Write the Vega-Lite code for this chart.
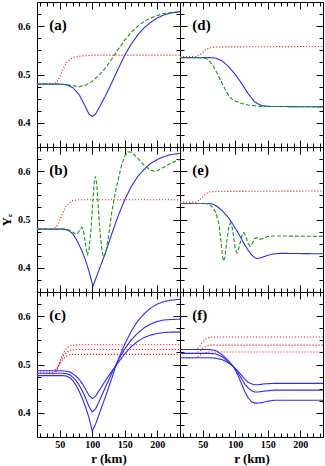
{
"$schema":"https://vega.github.io/schema/vega-lite/v6.json",
"padding":{"left":0,"top":1,"right":2,"bottom":0},
"background":"white",
"config":{"font":"Liberation Serif","view":{"stroke":"black","strokeWidth":1},
 "axis":{"domain":false,"grid":false,"labelFont":"Liberation Serif","labelFontWeight":"bold","labelFontSize":10,"labelColor":"black","labelFlush":false,"tickColor":"black","tickWidth":1,"titleFont":"Liberation Serif","titleFontWeight":"bold","titleFontSize":13,"titleColor":"black"}},
"data":{"values":[
{"p":"a","k":"r","s":"red","r":15,"y":0.480},{"p":"a","k":"r","s":"red","r":40,"y":0.480},{"p":"a","k":"r","s":"red","r":45,"y":0.484},{"p":"a","k":"r","s":"red","r":50,"y":0.495},{"p":"a","k":"r","s":"red","r":55,"y":0.511},{"p":"a","k":"r","s":"red","r":60,"y":0.524},{"p":"a","k":"r","s":"red","r":65,"y":0.531},{"p":"a","k":"r","s":"red","r":70,"y":0.535},{"p":"a","k":"r","s":"red","r":80,"y":0.538},{"p":"a","k":"r","s":"red","r":100,"y":0.540},{"p":"a","k":"r","s":"red","r":235,"y":0.540},
{"p":"a","k":"b","s":"blue","r":15,"y":0.480},{"p":"a","k":"b","s":"blue","r":50,"y":0.480},{"p":"a","k":"b","s":"blue","r":60,"y":0.479},{"p":"a","k":"b","s":"blue","r":70,"y":0.473},{"p":"a","k":"b","s":"blue","r":80,"y":0.458},{"p":"a","k":"b","s":"blue","r":90,"y":0.432},{"p":"a","k":"b","s":"blue","r":95,"y":0.418},{"p":"a","k":"b","s":"blue","r":100,"y":0.413},{"p":"a","k":"b","s":"blue","r":105,"y":0.418},{"p":"a","k":"b","s":"blue","r":110,"y":0.430},{"p":"a","k":"b","s":"blue","r":120,"y":0.455},{"p":"a","k":"b","s":"blue","r":130,"y":0.483},{"p":"a","k":"b","s":"blue","r":140,"y":0.512},{"p":"a","k":"b","s":"blue","r":150,"y":0.540},{"p":"a","k":"b","s":"blue","r":160,"y":0.563},{"p":"a","k":"b","s":"blue","r":170,"y":0.582},{"p":"a","k":"b","s":"blue","r":180,"y":0.597},{"p":"a","k":"b","s":"blue","r":190,"y":0.608},{"p":"a","k":"b","s":"blue","r":200,"y":0.617},{"p":"a","k":"b","s":"blue","r":210,"y":0.623},{"p":"a","k":"b","s":"blue","r":220,"y":0.627},{"p":"a","k":"b","s":"blue","r":235,"y":0.630},
{"p":"a","k":"g","s":"green","r":15,"y":0.480},{"p":"a","k":"g","s":"green","r":50,"y":0.480},{"p":"a","k":"g","s":"green","r":60,"y":0.479},{"p":"a","k":"g","s":"green","r":70,"y":0.477},{"p":"a","k":"g","s":"green","r":80,"y":0.475},{"p":"a","k":"g","s":"green","r":90,"y":0.478},{"p":"a","k":"g","s":"green","r":100,"y":0.486},{"p":"a","k":"g","s":"green","r":110,"y":0.498},{"p":"a","k":"g","s":"green","r":120,"y":0.513},{"p":"a","k":"g","s":"green","r":130,"y":0.532},{"p":"a","k":"g","s":"green","r":140,"y":0.552},{"p":"a","k":"g","s":"green","r":150,"y":0.571},{"p":"a","k":"g","s":"green","r":160,"y":0.587},{"p":"a","k":"g","s":"green","r":170,"y":0.600},{"p":"a","k":"g","s":"green","r":180,"y":0.610},{"p":"a","k":"g","s":"green","r":190,"y":0.617},{"p":"a","k":"g","s":"green","r":200,"y":0.622},{"p":"a","k":"g","s":"green","r":210,"y":0.626},{"p":"a","k":"g","s":"green","r":220,"y":0.628},{"p":"a","k":"g","s":"green","r":235,"y":0.630},

{"p":"d","k":"r","s":"red","r":15,"y":0.537},{"p":"d","k":"r","s":"red","r":40,"y":0.537},{"p":"d","k":"r","s":"red","r":45,"y":0.540},{"p":"d","k":"r","s":"red","r":50,"y":0.546},{"p":"d","k":"r","s":"red","r":55,"y":0.552},{"p":"d","k":"r","s":"red","r":60,"y":0.555},{"p":"d","k":"r","s":"red","r":70,"y":0.557},{"p":"d","k":"r","s":"red","r":235,"y":0.558},
{"p":"d","k":"b","s":"blue","r":15,"y":0.535},{"p":"d","k":"b","s":"blue","r":60,"y":0.535},{"p":"d","k":"b","s":"blue","r":70,"y":0.534},{"p":"d","k":"b","s":"blue","r":80,"y":0.528},{"p":"d","k":"b","s":"blue","r":90,"y":0.516},{"p":"d","k":"b","s":"blue","r":100,"y":0.500},{"p":"d","k":"b","s":"blue","r":110,"y":0.481},{"p":"d","k":"b","s":"blue","r":120,"y":0.460},{"p":"d","k":"b","s":"blue","r":130,"y":0.443},{"p":"d","k":"b","s":"blue","r":140,"y":0.436},{"p":"d","k":"b","s":"blue","r":150,"y":0.434},{"p":"d","k":"b","s":"blue","r":235,"y":0.433},
{"p":"d","k":"g","s":"green","r":15,"y":0.535},{"p":"d","k":"g","s":"green","r":50,"y":0.535},{"p":"d","k":"g","s":"green","r":55,"y":0.533},{"p":"d","k":"g","s":"green","r":60,"y":0.528},{"p":"d","k":"g","s":"green","r":65,"y":0.520},{"p":"d","k":"g","s":"green","r":70,"y":0.508},{"p":"d","k":"g","s":"green","r":75,"y":0.495},{"p":"d","k":"g","s":"green","r":80,"y":0.481},{"p":"d","k":"g","s":"green","r":85,"y":0.468},{"p":"d","k":"g","s":"green","r":90,"y":0.456},{"p":"d","k":"g","s":"green","r":95,"y":0.449},{"p":"d","k":"g","s":"green","r":100,"y":0.445},{"p":"d","k":"g","s":"green","r":110,"y":0.440},{"p":"d","k":"g","s":"green","r":120,"y":0.437},{"p":"d","k":"g","s":"green","r":130,"y":0.435},{"p":"d","k":"g","s":"green","r":140,"y":0.434},{"p":"d","k":"g","s":"green","r":235,"y":0.433},

{"p":"b","k":"r","s":"red","r":15,"y":0.480},{"p":"b","k":"r","s":"red","r":40,"y":0.480},{"p":"b","k":"r","s":"red","r":45,"y":0.485},{"p":"b","k":"r","s":"red","r":50,"y":0.498},{"p":"b","k":"r","s":"red","r":55,"y":0.515},{"p":"b","k":"r","s":"red","r":60,"y":0.528},{"p":"b","k":"r","s":"red","r":65,"y":0.535},{"p":"b","k":"r","s":"red","r":70,"y":0.539},{"p":"b","k":"r","s":"red","r":80,"y":0.541},{"p":"b","k":"r","s":"red","r":235,"y":0.541},
{"p":"b","k":"b","s":"blue","r":15,"y":0.480},{"p":"b","k":"b","s":"blue","r":55,"y":0.480},{"p":"b","k":"b","s":"blue","r":60,"y":0.479},{"p":"b","k":"b","s":"blue","r":65,"y":0.476},{"p":"b","k":"b","s":"blue","r":70,"y":0.470},{"p":"b","k":"b","s":"blue","r":75,"y":0.460},{"p":"b","k":"b","s":"blue","r":80,"y":0.447},{"p":"b","k":"b","s":"blue","r":85,"y":0.432},{"p":"b","k":"b","s":"blue","r":90,"y":0.414},{"p":"b","k":"b","s":"blue","r":95,"y":0.393},{"p":"b","k":"b","s":"blue","r":101,"y":0.362},{"p":"b","k":"b","s":"blue","r":105,"y":0.376},{"p":"b","k":"b","s":"blue","r":110,"y":0.394},{"p":"b","k":"b","s":"blue","r":120,"y":0.430},{"p":"b","k":"b","s":"blue","r":130,"y":0.470},{"p":"b","k":"b","s":"blue","r":140,"y":0.508},{"p":"b","k":"b","s":"blue","r":150,"y":0.541},{"p":"b","k":"b","s":"blue","r":160,"y":0.568},{"p":"b","k":"b","s":"blue","r":170,"y":0.589},{"p":"b","k":"b","s":"blue","r":180,"y":0.604},{"p":"b","k":"b","s":"blue","r":190,"y":0.616},{"p":"b","k":"b","s":"blue","r":200,"y":0.624},{"p":"b","k":"b","s":"blue","r":210,"y":0.630},{"p":"b","k":"b","s":"blue","r":220,"y":0.634},{"p":"b","k":"b","s":"blue","r":235,"y":0.637},
{"p":"b","k":"g","s":"green","r":15,"y":0.480},{"p":"b","k":"g","s":"green","r":60,"y":0.480},{"p":"b","k":"g","s":"green","r":65,"y":0.478},{"p":"b","k":"g","s":"green","r":70,"y":0.474},{"p":"b","k":"g","s":"green","r":75,"y":0.469},{"p":"b","k":"g","s":"green","r":78,"y":0.472},{"p":"b","k":"g","s":"green","r":81,"y":0.479},{"p":"b","k":"g","s":"green","r":84,"y":0.484},{"p":"b","k":"g","s":"green","r":86,"y":0.480},{"p":"b","k":"g","s":"green","r":88,"y":0.465},{"p":"b","k":"g","s":"green","r":90,"y":0.445},{"p":"b","k":"g","s":"green","r":92.5,"y":0.426},{"p":"b","k":"g","s":"green","r":95,"y":0.438},{"p":"b","k":"g","s":"green","r":98,"y":0.478},{"p":"b","k":"g","s":"green","r":101,"y":0.540},{"p":"b","k":"g","s":"green","r":103,"y":0.578},{"p":"b","k":"g","s":"green","r":105,"y":0.589},{"p":"b","k":"g","s":"green","r":107,"y":0.572},{"p":"b","k":"g","s":"green","r":109,"y":0.532},{"p":"b","k":"g","s":"green","r":111,"y":0.488},{"p":"b","k":"g","s":"green","r":114,"y":0.446},{"p":"b","k":"g","s":"green","r":116,"y":0.428},{"p":"b","k":"g","s":"green","r":118,"y":0.422},{"p":"b","k":"g","s":"green","r":121,"y":0.432},{"p":"b","k":"g","s":"green","r":125,"y":0.465},{"p":"b","k":"g","s":"green","r":130,"y":0.515},{"p":"b","k":"g","s":"green","r":135,"y":0.553},{"p":"b","k":"g","s":"green","r":140,"y":0.583},{"p":"b","k":"g","s":"green","r":145,"y":0.612},{"p":"b","k":"g","s":"green","r":150,"y":0.631},{"p":"b","k":"g","s":"green","r":155,"y":0.640},{"p":"b","k":"g","s":"green","r":160,"y":0.639},{"p":"b","k":"g","s":"green","r":170,"y":0.627},{"p":"b","k":"g","s":"green","r":180,"y":0.612},{"p":"b","k":"g","s":"green","r":190,"y":0.602},{"p":"b","k":"g","s":"green","r":195,"y":0.600},{"p":"b","k":"g","s":"green","r":200,"y":0.601},{"p":"b","k":"g","s":"green","r":210,"y":0.608},{"p":"b","k":"g","s":"green","r":220,"y":0.616},{"p":"b","k":"g","s":"green","r":235,"y":0.624},

{"p":"e","k":"r","s":"red","r":15,"y":0.536},{"p":"e","k":"r","s":"red","r":40,"y":0.536},{"p":"e","k":"r","s":"red","r":45,"y":0.540},{"p":"e","k":"r","s":"red","r":50,"y":0.547},{"p":"e","k":"r","s":"red","r":55,"y":0.554},{"p":"e","k":"r","s":"red","r":60,"y":0.557},{"p":"e","k":"r","s":"red","r":70,"y":0.558},{"p":"e","k":"r","s":"red","r":235,"y":0.559},
{"p":"e","k":"b","s":"blue","r":15,"y":0.533},{"p":"e","k":"b","s":"blue","r":60,"y":0.533},{"p":"e","k":"b","s":"blue","r":65,"y":0.532},{"p":"e","k":"b","s":"blue","r":70,"y":0.529},{"p":"e","k":"b","s":"blue","r":75,"y":0.524},{"p":"e","k":"b","s":"blue","r":80,"y":0.518},{"p":"e","k":"b","s":"blue","r":85,"y":0.511},{"p":"e","k":"b","s":"blue","r":90,"y":0.503},{"p":"e","k":"b","s":"blue","r":95,"y":0.493},{"p":"e","k":"b","s":"blue","r":100,"y":0.482},{"p":"e","k":"b","s":"blue","r":105,"y":0.471},{"p":"e","k":"b","s":"blue","r":110,"y":0.459},{"p":"e","k":"b","s":"blue","r":115,"y":0.447},{"p":"e","k":"b","s":"blue","r":120,"y":0.436},{"p":"e","k":"b","s":"blue","r":125,"y":0.427},{"p":"e","k":"b","s":"blue","r":130,"y":0.421},{"p":"e","k":"b","s":"blue","r":134,"y":0.419},{"p":"e","k":"b","s":"blue","r":140,"y":0.421},{"p":"e","k":"b","s":"blue","r":150,"y":0.426},{"p":"e","k":"b","s":"blue","r":160,"y":0.429},{"p":"e","k":"b","s":"blue","r":170,"y":0.430},{"p":"e","k":"b","s":"blue","r":235,"y":0.429},
{"p":"e","k":"g","s":"green","r":15,"y":0.533},{"p":"e","k":"g","s":"green","r":55,"y":0.533},{"p":"e","k":"g","s":"green","r":60,"y":0.531},{"p":"e","k":"g","s":"green","r":65,"y":0.526},{"p":"e","k":"g","s":"green","r":70,"y":0.515},{"p":"e","k":"g","s":"green","r":75,"y":0.490},{"p":"e","k":"g","s":"green","r":78,"y":0.455},{"p":"e","k":"g","s":"green","r":80,"y":0.428},{"p":"e","k":"g","s":"green","r":82,"y":0.414},{"p":"e","k":"g","s":"green","r":84,"y":0.420},{"p":"e","k":"g","s":"green","r":87,"y":0.455},{"p":"e","k":"g","s":"green","r":90,"y":0.485},{"p":"e","k":"g","s":"green","r":92.5,"y":0.493},{"p":"e","k":"g","s":"green","r":95,"y":0.485},{"p":"e","k":"g","s":"green","r":98,"y":0.460},{"p":"e","k":"g","s":"green","r":100,"y":0.440},{"p":"e","k":"g","s":"green","r":102.5,"y":0.431},{"p":"e","k":"g","s":"green","r":105,"y":0.438},{"p":"e","k":"g","s":"green","r":108,"y":0.455},{"p":"e","k":"g","s":"green","r":111,"y":0.470},{"p":"e","k":"g","s":"green","r":113,"y":0.473},{"p":"e","k":"g","s":"green","r":116,"y":0.466},{"p":"e","k":"g","s":"green","r":120,"y":0.450},{"p":"e","k":"g","s":"green","r":123,"y":0.445},{"p":"e","k":"g","s":"green","r":126,"y":0.450},{"p":"e","k":"g","s":"green","r":130,"y":0.461},{"p":"e","k":"g","s":"green","r":134,"y":0.462},{"p":"e","k":"g","s":"green","r":138,"y":0.459},{"p":"e","k":"g","s":"green","r":143,"y":0.461},{"p":"e","k":"g","s":"green","r":150,"y":0.465},{"p":"e","k":"g","s":"green","r":160,"y":0.466},{"p":"e","k":"g","s":"green","r":235,"y":0.465},

{"p":"c","k":"r1","s":"red","r":15,"y":0.477},{"p":"c","k":"r1","s":"red","r":40,"y":0.478},{"p":"c","k":"r1","s":"red","r":45,"y":0.485},{"p":"c","k":"r1","s":"red","r":50,"y":0.505},{"p":"c","k":"r1","s":"red","r":55,"y":0.522},{"p":"c","k":"r1","s":"red","r":60,"y":0.533},{"p":"c","k":"r1","s":"red","r":65,"y":0.538},{"p":"c","k":"r1","s":"red","r":70,"y":0.540},{"p":"c","k":"r1","s":"red","r":80,"y":0.541},{"p":"c","k":"r1","s":"red","r":235,"y":0.541},
{"p":"c","k":"r2","s":"red","r":15,"y":0.482},{"p":"c","k":"r2","s":"red","r":40,"y":0.483},{"p":"c","k":"r2","s":"red","r":45,"y":0.488},{"p":"c","k":"r2","s":"red","r":50,"y":0.503},{"p":"c","k":"r2","s":"red","r":55,"y":0.517},{"p":"c","k":"r2","s":"red","r":60,"y":0.525},{"p":"c","k":"r2","s":"red","r":65,"y":0.529},{"p":"c","k":"r2","s":"red","r":70,"y":0.530},{"p":"c","k":"r2","s":"red","r":80,"y":0.531},{"p":"c","k":"r2","s":"red","r":235,"y":0.531},
{"p":"c","k":"r3","s":"red","r":15,"y":0.487},{"p":"c","k":"r3","s":"red","r":40,"y":0.487},{"p":"c","k":"r3","s":"red","r":45,"y":0.491},{"p":"c","k":"r3","s":"red","r":50,"y":0.502},{"p":"c","k":"r3","s":"red","r":55,"y":0.511},{"p":"c","k":"r3","s":"red","r":60,"y":0.517},{"p":"c","k":"r3","s":"red","r":65,"y":0.520},{"p":"c","k":"r3","s":"red","r":70,"y":0.521},{"p":"c","k":"r3","s":"red","r":235,"y":0.521},
{"p":"c","k":"b1","s":"blue","r":15,"y":0.477},{"p":"c","k":"b1","s":"blue","r":55,"y":0.477},{"p":"c","k":"b1","s":"blue","r":60,"y":0.476},{"p":"c","k":"b1","s":"blue","r":65,"y":0.473},{"p":"c","k":"b1","s":"blue","r":70,"y":0.467},{"p":"c","k":"b1","s":"blue","r":75,"y":0.457},{"p":"c","k":"b1","s":"blue","r":80,"y":0.444},{"p":"c","k":"b1","s":"blue","r":85,"y":0.429},{"p":"c","k":"b1","s":"blue","r":90,"y":0.411},{"p":"c","k":"b1","s":"blue","r":95,"y":0.390},{"p":"c","k":"b1","s":"blue","r":100,"y":0.362},{"p":"c","k":"b1","s":"blue","r":105,"y":0.376},{"p":"c","k":"b1","s":"blue","r":110,"y":0.395},{"p":"c","k":"b1","s":"blue","r":120,"y":0.432},{"p":"c","k":"b1","s":"blue","r":130,"y":0.471},{"p":"c","k":"b1","s":"blue","r":135,"y":0.492},{"p":"c","k":"b1","s":"blue","r":140,"y":0.510},{"p":"c","k":"b1","s":"blue","r":150,"y":0.542},{"p":"c","k":"b1","s":"blue","r":160,"y":0.569},{"p":"c","k":"b1","s":"blue","r":170,"y":0.590},{"p":"c","k":"b1","s":"blue","r":180,"y":0.605},{"p":"c","k":"b1","s":"blue","r":190,"y":0.617},{"p":"c","k":"b1","s":"blue","r":200,"y":0.625},{"p":"c","k":"b1","s":"blue","r":210,"y":0.630},{"p":"c","k":"b1","s":"blue","r":220,"y":0.633},{"p":"c","k":"b1","s":"blue","r":235,"y":0.635},
{"p":"c","k":"b2","s":"blue","r":15,"y":0.482},{"p":"c","k":"b2","s":"blue","r":55,"y":0.482},{"p":"c","k":"b2","s":"blue","r":60,"y":0.481},{"p":"c","k":"b2","s":"blue","r":65,"y":0.479},{"p":"c","k":"b2","s":"blue","r":70,"y":0.474},{"p":"c","k":"b2","s":"blue","r":75,"y":0.467},{"p":"c","k":"b2","s":"blue","r":80,"y":0.457},{"p":"c","k":"b2","s":"blue","r":85,"y":0.445},{"p":"c","k":"b2","s":"blue","r":90,"y":0.430},{"p":"c","k":"b2","s":"blue","r":95,"y":0.413},{"p":"c","k":"b2","s":"blue","r":100,"y":0.402},{"p":"c","k":"b2","s":"blue","r":105,"y":0.408},{"p":"c","k":"b2","s":"blue","r":110,"y":0.422},{"p":"c","k":"b2","s":"blue","r":120,"y":0.452},{"p":"c","k":"b2","s":"blue","r":130,"y":0.482},{"p":"c","k":"b2","s":"blue","r":135,"y":0.495},{"p":"c","k":"b2","s":"blue","r":140,"y":0.509},{"p":"c","k":"b2","s":"blue","r":150,"y":0.532},{"p":"c","k":"b2","s":"blue","r":160,"y":0.551},{"p":"c","k":"b2","s":"blue","r":170,"y":0.565},{"p":"c","k":"b2","s":"blue","r":180,"y":0.576},{"p":"c","k":"b2","s":"blue","r":190,"y":0.584},{"p":"c","k":"b2","s":"blue","r":200,"y":0.589},{"p":"c","k":"b2","s":"blue","r":210,"y":0.592},{"p":"c","k":"b2","s":"blue","r":220,"y":0.593},{"p":"c","k":"b2","s":"blue","r":235,"y":0.594},
{"p":"c","k":"b3","s":"blue","r":15,"y":0.487},{"p":"c","k":"b3","s":"blue","r":55,"y":0.487},{"p":"c","k":"b3","s":"blue","r":60,"y":0.486},{"p":"c","k":"b3","s":"blue","r":65,"y":0.485},{"p":"c","k":"b3","s":"blue","r":70,"y":0.481},{"p":"c","k":"b3","s":"blue","r":75,"y":0.476},{"p":"c","k":"b3","s":"blue","r":80,"y":0.469},{"p":"c","k":"b3","s":"blue","r":85,"y":0.460},{"p":"c","k":"b3","s":"blue","r":90,"y":0.448},{"p":"c","k":"b3","s":"blue","r":95,"y":0.436},{"p":"c","k":"b3","s":"blue","r":100,"y":0.430},{"p":"c","k":"b3","s":"blue","r":105,"y":0.434},{"p":"c","k":"b3","s":"blue","r":110,"y":0.445},{"p":"c","k":"b3","s":"blue","r":120,"y":0.466},{"p":"c","k":"b3","s":"blue","r":130,"y":0.486},{"p":"c","k":"b3","s":"blue","r":135,"y":0.495},{"p":"c","k":"b3","s":"blue","r":140,"y":0.504},{"p":"c","k":"b3","s":"blue","r":150,"y":0.522},{"p":"c","k":"b3","s":"blue","r":160,"y":0.537},{"p":"c","k":"b3","s":"blue","r":170,"y":0.548},{"p":"c","k":"b3","s":"blue","r":180,"y":0.556},{"p":"c","k":"b3","s":"blue","r":190,"y":0.561},{"p":"c","k":"b3","s":"blue","r":200,"y":0.564},{"p":"c","k":"b3","s":"blue","r":210,"y":0.566},{"p":"c","k":"b3","s":"blue","r":220,"y":0.567},{"p":"c","k":"b3","s":"blue","r":235,"y":0.567},

{"p":"f","k":"r1","s":"red","r":15,"y":0.531},{"p":"f","k":"r1","s":"red","r":40,"y":0.531},{"p":"f","k":"r1","s":"red","r":45,"y":0.537},{"p":"f","k":"r1","s":"red","r":50,"y":0.547},{"p":"f","k":"r1","s":"red","r":55,"y":0.553},{"p":"f","k":"r1","s":"red","r":60,"y":0.556},{"p":"f","k":"r1","s":"red","r":70,"y":0.557},{"p":"f","k":"r1","s":"red","r":235,"y":0.557},
{"p":"f","k":"r2","s":"red","r":15,"y":0.523},{"p":"f","k":"r2","s":"red","r":40,"y":0.523},{"p":"f","k":"r2","s":"red","r":45,"y":0.528},{"p":"f","k":"r2","s":"red","r":50,"y":0.534},{"p":"f","k":"r2","s":"red","r":55,"y":0.538},{"p":"f","k":"r2","s":"red","r":60,"y":0.540},{"p":"f","k":"r2","s":"red","r":235,"y":0.540},
{"p":"f","k":"r3","s":"red","r":15,"y":0.514},{"p":"f","k":"r3","s":"red","r":40,"y":0.514},{"p":"f","k":"r3","s":"red","r":45,"y":0.518},{"p":"f","k":"r3","s":"red","r":50,"y":0.523},{"p":"f","k":"r3","s":"red","r":55,"y":0.525},{"p":"f","k":"r3","s":"red","r":60,"y":0.526},{"p":"f","k":"r3","s":"red","r":235,"y":0.526},
{"p":"f","k":"b1","s":"blue","r":15,"y":0.531},{"p":"f","k":"b1","s":"blue","r":60,"y":0.531},{"p":"f","k":"b1","s":"blue","r":70,"y":0.529},{"p":"f","k":"b1","s":"blue","r":80,"y":0.520},{"p":"f","k":"b1","s":"blue","r":90,"y":0.507},{"p":"f","k":"b1","s":"blue","r":95,"y":0.499},{"p":"f","k":"b1","s":"blue","r":100,"y":0.489},{"p":"f","k":"b1","s":"blue","r":105,"y":0.475},{"p":"f","k":"b1","s":"blue","r":110,"y":0.459},{"p":"f","k":"b1","s":"blue","r":115,"y":0.443},{"p":"f","k":"b1","s":"blue","r":120,"y":0.431},{"p":"f","k":"b1","s":"blue","r":125,"y":0.423},{"p":"f","k":"b1","s":"blue","r":130,"y":0.420},{"p":"f","k":"b1","s":"blue","r":135,"y":0.420},{"p":"f","k":"b1","s":"blue","r":140,"y":0.421},{"p":"f","k":"b1","s":"blue","r":150,"y":0.424},{"p":"f","k":"b1","s":"blue","r":160,"y":0.426},{"p":"f","k":"b1","s":"blue","r":235,"y":0.426},
{"p":"f","k":"b2","s":"blue","r":15,"y":0.523},{"p":"f","k":"b2","s":"blue","r":60,"y":0.523},{"p":"f","k":"b2","s":"blue","r":70,"y":0.522},{"p":"f","k":"b2","s":"blue","r":80,"y":0.516},{"p":"f","k":"b2","s":"blue","r":90,"y":0.505},{"p":"f","k":"b2","s":"blue","r":95,"y":0.499},{"p":"f","k":"b2","s":"blue","r":100,"y":0.491},{"p":"f","k":"b2","s":"blue","r":105,"y":0.481},{"p":"f","k":"b2","s":"blue","r":110,"y":0.470},{"p":"f","k":"b2","s":"blue","r":115,"y":0.459},{"p":"f","k":"b2","s":"blue","r":120,"y":0.451},{"p":"f","k":"b2","s":"blue","r":125,"y":0.446},{"p":"f","k":"b2","s":"blue","r":130,"y":0.443},{"p":"f","k":"b2","s":"blue","r":135,"y":0.443},{"p":"f","k":"b2","s":"blue","r":145,"y":0.445},{"p":"f","k":"b2","s":"blue","r":160,"y":0.447},{"p":"f","k":"b2","s":"blue","r":235,"y":0.447},
{"p":"f","k":"b3","s":"blue","r":15,"y":0.514},{"p":"f","k":"b3","s":"blue","r":60,"y":0.514},{"p":"f","k":"b3","s":"blue","r":70,"y":0.513},{"p":"f","k":"b3","s":"blue","r":80,"y":0.510},{"p":"f","k":"b3","s":"blue","r":90,"y":0.503},{"p":"f","k":"b3","s":"blue","r":95,"y":0.498},{"p":"f","k":"b3","s":"blue","r":100,"y":0.492},{"p":"f","k":"b3","s":"blue","r":105,"y":0.485},{"p":"f","k":"b3","s":"blue","r":110,"y":0.477},{"p":"f","k":"b3","s":"blue","r":115,"y":0.469},{"p":"f","k":"b3","s":"blue","r":120,"y":0.463},{"p":"f","k":"b3","s":"blue","r":125,"y":0.460},{"p":"f","k":"b3","s":"blue","r":130,"y":0.458},{"p":"f","k":"b3","s":"blue","r":135,"y":0.458},{"p":"f","k":"b3","s":"blue","r":145,"y":0.460},{"p":"f","k":"b3","s":"blue","r":160,"y":0.461},{"p":"f","k":"b3","s":"blue","r":235,"y":0.461}
]},
"columns":2,"spacing":0,"bounds":"flush",
"concat":[
{"width":143,"height":145,"layer":[
 {"transform":[{"filter":"datum.p==='a'"}],"mark":{"type":"line","strokeWidth":1.1},"encoding":{
  "x":{"field":"r","type":"quantitative","scale":{"domain":[15,235],"nice":false,"zero":false},"axis":{"orient":"bottom","values":[20,30,40,50,60,70,80,90,100,110,120,130,140,150,160,170,180,190,200,210,220,230],"tickSize":{"condition":{"test":"datum.value % 50 === 0","value":-7},"value":-4},"labels":false,"title":null}},
  "y":{"field":"y","type":"quantitative","scale":{"domain":[0.35,0.65],"nice":false,"zero":false},"axis":{"orient":"left","values":[0.375,0.4,0.425,0.45,0.475,0.5,0.525,0.55,0.575,0.6,0.625],"tickSize":{"condition":{"test":"abs(datum.value*10-round(datum.value*10))<0.001","value":-7},"value":-4},"labelExpr":"abs(datum.value*10-round(datum.value*10))<0.001 ? format(datum.value,'.1f') : ''","labelPadding":14,"labelOverlap":false,"title":null}},
  "color":{"field":"s","type":"nominal","scale":{"domain":["red","blue","green"],"range":["#ff2020","#2a2aff","#1a961a"]},"legend":null},
  "strokeDash":{"field":"s","type":"nominal","scale":{"domain":["red","blue","green"],"range":[[1.2,1.8],[1,0],[4,2]]},"legend":null},
  "detail":{"field":"k"}}},
 {"transform":[{"filter":"datum.p==='a'"}],"mark":{"type":"point","opacity":0},"encoding":{
  "x":{"field":"r","type":"quantitative","scale":{"domain":[15,235],"nice":false,"zero":false},"axis":{"orient":"top","values":[20,30,40,50,60,70,80,90,100,110,120,130,140,150,160,170,180,190,200,210,220,230],"tickSize":{"condition":{"test":"datum.value % 50 === 0","value":-7},"value":-4},"labels":false,"title":null}},
  "y":{"field":"y","type":"quantitative","scale":{"domain":[0.35,0.65],"nice":false,"zero":false},"axis":{"orient":"right","values":[0.375,0.4,0.425,0.45,0.475,0.5,0.525,0.55,0.575,0.6,0.625],"tickSize":{"condition":{"test":"abs(datum.value*10-round(datum.value*10))<0.001","value":-7},"value":-4},"labels":false,"title":null}}}},
 {"data":{"values":[{"t":"(a)"}]},"mark":{"type":"text","align":"left","baseline":"middle","fontSize":15,"fontWeight":"bold","font":"Liberation Serif","color":"black"},"encoding":{
  "x":{"datum":34,"type":"quantitative","scale":{"domain":[15,235],"nice":false,"zero":false},"axis":null},
  "y":{"datum":0.603,"type":"quantitative","scale":{"domain":[0.35,0.65],"nice":false,"zero":false},"axis":null},
  "text":{"field":"t"}}}
],"resolve":{"axis":{"x":"independent","y":"independent"}}},

{"width":143,"height":145,"layer":[
 {"transform":[{"filter":"datum.p==='d'"}],"mark":{"type":"line","strokeWidth":1.1},"encoding":{
  "x":{"field":"r","type":"quantitative","scale":{"domain":[15,235],"nice":false,"zero":false},"axis":{"orient":"bottom","values":[20,30,40,50,60,70,80,90,100,110,120,130,140,150,160,170,180,190,200,210,220,230],"tickSize":{"condition":{"test":"datum.value % 50 === 0","value":-7},"value":-4},"labels":false,"title":null}},
  "y":{"field":"y","type":"quantitative","scale":{"domain":[0.35,0.65],"nice":false,"zero":false},"axis":{"orient":"left","values":[0.375,0.4,0.425,0.45,0.475,0.5,0.525,0.55,0.575,0.6,0.625],"tickSize":{"condition":{"test":"abs(datum.value*10-round(datum.value*10))<0.001","value":-7},"value":-4},"labels":false,"title":null}},
  "color":{"field":"s","type":"nominal","scale":{"domain":["red","blue","green"],"range":["#ff2020","#2a2aff","#1a961a"]},"legend":null},
  "strokeDash":{"field":"s","type":"nominal","scale":{"domain":["red","blue","green"],"range":[[1.2,1.8],[1,0],[4,2]]},"legend":null},
  "detail":{"field":"k"}}},
 {"transform":[{"filter":"datum.p==='d'"}],"mark":{"type":"point","opacity":0},"encoding":{
  "x":{"field":"r","type":"quantitative","scale":{"domain":[15,235],"nice":false,"zero":false},"axis":{"orient":"top","values":[20,30,40,50,60,70,80,90,100,110,120,130,140,150,160,170,180,190,200,210,220,230],"tickSize":{"condition":{"test":"datum.value % 50 === 0","value":-7},"value":-4},"labels":false,"title":null}},
  "y":{"field":"y","type":"quantitative","scale":{"domain":[0.35,0.65],"nice":false,"zero":false},"axis":{"orient":"right","values":[0.375,0.4,0.425,0.45,0.475,0.5,0.525,0.55,0.575,0.6,0.625],"tickSize":{"condition":{"test":"abs(datum.value*10-round(datum.value*10))<0.001","value":-7},"value":-4},"labels":false,"title":null}}}},
 {"data":{"values":[{"t":"(d)"}]},"mark":{"type":"text","align":"left","baseline":"middle","fontSize":15,"fontWeight":"bold","font":"Liberation Serif","color":"black"},"encoding":{
  "x":{"datum":34,"type":"quantitative","scale":{"domain":[15,235],"nice":false,"zero":false},"axis":null},
  "y":{"datum":0.603,"type":"quantitative","scale":{"domain":[0.35,0.65],"nice":false,"zero":false},"axis":null},
  "text":{"field":"t"}}}
],"resolve":{"axis":{"x":"independent","y":"independent"}}},

{"width":143,"height":145,"layer":[
 {"transform":[{"filter":"datum.p==='b'"}],"mark":{"type":"line","strokeWidth":1.1},"encoding":{
  "x":{"field":"r","type":"quantitative","scale":{"domain":[15,235],"nice":false,"zero":false},"axis":{"orient":"bottom","values":[20,30,40,50,60,70,80,90,100,110,120,130,140,150,160,170,180,190,200,210,220,230],"tickSize":{"condition":{"test":"datum.value % 50 === 0","value":-7},"value":-4},"labels":false,"title":null}},
  "y":{"field":"y","type":"quantitative","scale":{"domain":[0.35,0.65],"nice":false,"zero":false},"axis":{"orient":"left","values":[0.375,0.4,0.425,0.45,0.475,0.5,0.525,0.55,0.575,0.6,0.625],"tickSize":{"condition":{"test":"abs(datum.value*10-round(datum.value*10))<0.001","value":-7},"value":-4},"labelExpr":"abs(datum.value*10-round(datum.value*10))<0.001 ? format(datum.value,'.1f') : ''","labelPadding":14,"labelOverlap":false,"title":"Yₑ","titlePadding":4}},
  "color":{"field":"s","type":"nominal","scale":{"domain":["red","blue","green"],"range":["#ff2020","#2a2aff","#1a961a"]},"legend":null},
  "strokeDash":{"field":"s","type":"nominal","scale":{"domain":["red","blue","green"],"range":[[1.2,1.8],[1,0],[4,2]]},"legend":null},
  "detail":{"field":"k"}}},
 {"transform":[{"filter":"datum.p==='b'"}],"mark":{"type":"point","opacity":0},"encoding":{
  "x":{"field":"r","type":"quantitative","scale":{"domain":[15,235],"nice":false,"zero":false},"axis":{"orient":"top","values":[20,30,40,50,60,70,80,90,100,110,120,130,140,150,160,170,180,190,200,210,220,230],"tickSize":{"condition":{"test":"datum.value % 50 === 0","value":-7},"value":-4},"labels":false,"title":null}},
  "y":{"field":"y","type":"quantitative","scale":{"domain":[0.35,0.65],"nice":false,"zero":false},"axis":{"orient":"right","values":[0.375,0.4,0.425,0.45,0.475,0.5,0.525,0.55,0.575,0.6,0.625],"tickSize":{"condition":{"test":"abs(datum.value*10-round(datum.value*10))<0.001","value":-7},"value":-4},"labels":false,"title":null}}}},
 {"data":{"values":[{"t":"(b)"}]},"mark":{"type":"text","align":"left","baseline":"middle","fontSize":15,"fontWeight":"bold","font":"Liberation Serif","color":"black"},"encoding":{
  "x":{"datum":34,"type":"quantitative","scale":{"domain":[15,235],"nice":false,"zero":false},"axis":null},
  "y":{"datum":0.603,"type":"quantitative","scale":{"domain":[0.35,0.65],"nice":false,"zero":false},"axis":null},
  "text":{"field":"t"}}}
],"resolve":{"axis":{"x":"independent","y":"independent"}}},

{"width":143,"height":145,"layer":[
 {"transform":[{"filter":"datum.p==='e'"}],"mark":{"type":"line","strokeWidth":1.1},"encoding":{
  "x":{"field":"r","type":"quantitative","scale":{"domain":[15,235],"nice":false,"zero":false},"axis":{"orient":"bottom","values":[20,30,40,50,60,70,80,90,100,110,120,130,140,150,160,170,180,190,200,210,220,230],"tickSize":{"condition":{"test":"datum.value % 50 === 0","value":-7},"value":-4},"labels":false,"title":null}},
  "y":{"field":"y","type":"quantitative","scale":{"domain":[0.35,0.65],"nice":false,"zero":false},"axis":{"orient":"left","values":[0.375,0.4,0.425,0.45,0.475,0.5,0.525,0.55,0.575,0.6,0.625],"tickSize":{"condition":{"test":"abs(datum.value*10-round(datum.value*10))<0.001","value":-7},"value":-4},"labels":false,"title":null}},
  "color":{"field":"s","type":"nominal","scale":{"domain":["red","blue","green"],"range":["#ff2020","#2a2aff","#1a961a"]},"legend":null},
  "strokeDash":{"field":"s","type":"nominal","scale":{"domain":["red","blue","green"],"range":[[1.2,1.8],[1,0],[4,2]]},"legend":null},
  "detail":{"field":"k"}}},
 {"transform":[{"filter":"datum.p==='e'"}],"mark":{"type":"point","opacity":0},"encoding":{
  "x":{"field":"r","type":"quantitative","scale":{"domain":[15,235],"nice":false,"zero":false},"axis":{"orient":"top","values":[20,30,40,50,60,70,80,90,100,110,120,130,140,150,160,170,180,190,200,210,220,230],"tickSize":{"condition":{"test":"datum.value % 50 === 0","value":-7},"value":-4},"labels":false,"title":null}},
  "y":{"field":"y","type":"quantitative","scale":{"domain":[0.35,0.65],"nice":false,"zero":false},"axis":{"orient":"right","values":[0.375,0.4,0.425,0.45,0.475,0.5,0.525,0.55,0.575,0.6,0.625],"tickSize":{"condition":{"test":"abs(datum.value*10-round(datum.value*10))<0.001","value":-7},"value":-4},"labels":false,"title":null}}}},
 {"data":{"values":[{"t":"(e)"}]},"mark":{"type":"text","align":"left","baseline":"middle","fontSize":15,"fontWeight":"bold","font":"Liberation Serif","color":"black"},"encoding":{
  "x":{"datum":34,"type":"quantitative","scale":{"domain":[15,235],"nice":false,"zero":false},"axis":null},
  "y":{"datum":0.603,"type":"quantitative","scale":{"domain":[0.35,0.65],"nice":false,"zero":false},"axis":null},
  "text":{"field":"t"}}}
],"resolve":{"axis":{"x":"independent","y":"independent"}}},

{"width":143,"height":145,"layer":[
 {"transform":[{"filter":"datum.p==='c'"}],"mark":{"type":"line","strokeWidth":1.1},"encoding":{
  "x":{"field":"r","type":"quantitative","scale":{"domain":[15,235],"nice":false,"zero":false},"axis":{"orient":"bottom","values":[20,30,40,50,60,70,80,90,100,110,120,130,140,150,160,170,180,190,200,210,220,230],"tickSize":{"condition":{"test":"datum.value % 50 === 0","value":-7},"value":-4},"labelExpr":"datum.value % 50 === 0 ? datum.label : ''","labelPadding":9,"labelOverlap":false,"title":"r (km)","titlePadding":0}},
  "y":{"field":"y","type":"quantitative","scale":{"domain":[0.35,0.65],"nice":false,"zero":false},"axis":{"orient":"left","values":[0.375,0.4,0.425,0.45,0.475,0.5,0.525,0.55,0.575,0.6,0.625],"tickSize":{"condition":{"test":"abs(datum.value*10-round(datum.value*10))<0.001","value":-7},"value":-4},"labelExpr":"abs(datum.value*10-round(datum.value*10))<0.001 ? format(datum.value,'.1f') : ''","labelPadding":14,"labelOverlap":false,"title":null}},
  "color":{"field":"s","type":"nominal","scale":{"domain":["red","blue","green"],"range":["#ff2020","#2a2aff","#1a961a"]},"legend":null},
  "strokeDash":{"field":"s","type":"nominal","scale":{"domain":["red","blue","green"],"range":[[1.2,1.8],[1,0],[4,2]]},"legend":null},
  "detail":{"field":"k"}}},
 {"transform":[{"filter":"datum.p==='c'"}],"mark":{"type":"point","opacity":0},"encoding":{
  "x":{"field":"r","type":"quantitative","scale":{"domain":[15,235],"nice":false,"zero":false},"axis":{"orient":"top","values":[20,30,40,50,60,70,80,90,100,110,120,130,140,150,160,170,180,190,200,210,220,230],"tickSize":{"condition":{"test":"datum.value % 50 === 0","value":-7},"value":-4},"labels":false,"title":null}},
  "y":{"field":"y","type":"quantitative","scale":{"domain":[0.35,0.65],"nice":false,"zero":false},"axis":{"orient":"right","values":[0.375,0.4,0.425,0.45,0.475,0.5,0.525,0.55,0.575,0.6,0.625],"tickSize":{"condition":{"test":"abs(datum.value*10-round(datum.value*10))<0.001","value":-7},"value":-4},"labels":false,"title":null}}}},
 {"data":{"values":[{"t":"(c)"}]},"mark":{"type":"text","align":"left","baseline":"middle","fontSize":15,"fontWeight":"bold","font":"Liberation Serif","color":"black"},"encoding":{
  "x":{"datum":34,"type":"quantitative","scale":{"domain":[15,235],"nice":false,"zero":false},"axis":null},
  "y":{"datum":0.603,"type":"quantitative","scale":{"domain":[0.35,0.65],"nice":false,"zero":false},"axis":null},
  "text":{"field":"t"}}}
],"resolve":{"axis":{"x":"independent","y":"independent"}}},

{"width":143,"height":145,"layer":[
 {"transform":[{"filter":"datum.p==='f'"}],"mark":{"type":"line","strokeWidth":1.1},"encoding":{
  "x":{"field":"r","type":"quantitative","scale":{"domain":[15,235],"nice":false,"zero":false},"axis":{"orient":"bottom","values":[20,30,40,50,60,70,80,90,100,110,120,130,140,150,160,170,180,190,200,210,220,230],"tickSize":{"condition":{"test":"datum.value % 50 === 0","value":-7},"value":-4},"labelExpr":"datum.value % 50 === 0 ? datum.label : ''","labelPadding":9,"labelOverlap":false,"title":"r (km)","titlePadding":0}},
  "y":{"field":"y","type":"quantitative","scale":{"domain":[0.35,0.65],"nice":false,"zero":false},"axis":{"orient":"left","values":[0.375,0.4,0.425,0.45,0.475,0.5,0.525,0.55,0.575,0.6,0.625],"tickSize":{"condition":{"test":"abs(datum.value*10-round(datum.value*10))<0.001","value":-7},"value":-4},"labels":false,"title":null}},
  "color":{"field":"s","type":"nominal","scale":{"domain":["red","blue","green"],"range":["#ff2020","#2a2aff","#1a961a"]},"legend":null},
  "strokeDash":{"field":"s","type":"nominal","scale":{"domain":["red","blue","green"],"range":[[1.2,1.8],[1,0],[4,2]]},"legend":null},
  "detail":{"field":"k"}}},
 {"transform":[{"filter":"datum.p==='f'"}],"mark":{"type":"point","opacity":0},"encoding":{
  "x":{"field":"r","type":"quantitative","scale":{"domain":[15,235],"nice":false,"zero":false},"axis":{"orient":"top","values":[20,30,40,50,60,70,80,90,100,110,120,130,140,150,160,170,180,190,200,210,220,230],"tickSize":{"condition":{"test":"datum.value % 50 === 0","value":-7},"value":-4},"labels":false,"title":null}},
  "y":{"field":"y","type":"quantitative","scale":{"domain":[0.35,0.65],"nice":false,"zero":false},"axis":{"orient":"right","values":[0.375,0.4,0.425,0.45,0.475,0.5,0.525,0.55,0.575,0.6,0.625],"tickSize":{"condition":{"test":"abs(datum.value*10-round(datum.value*10))<0.001","value":-7},"value":-4},"labels":false,"title":null}}}},
 {"data":{"values":[{"t":"(f)"}]},"mark":{"type":"text","align":"left","baseline":"middle","fontSize":15,"fontWeight":"bold","font":"Liberation Serif","color":"black"},"encoding":{
  "x":{"datum":34,"type":"quantitative","scale":{"domain":[15,235],"nice":false,"zero":false},"axis":null},
  "y":{"datum":0.603,"type":"quantitative","scale":{"domain":[0.35,0.65],"nice":false,"zero":false},"axis":null},
  "text":{"field":"t"}}}
],"resolve":{"axis":{"x":"independent","y":"independent"}}}
]
}
